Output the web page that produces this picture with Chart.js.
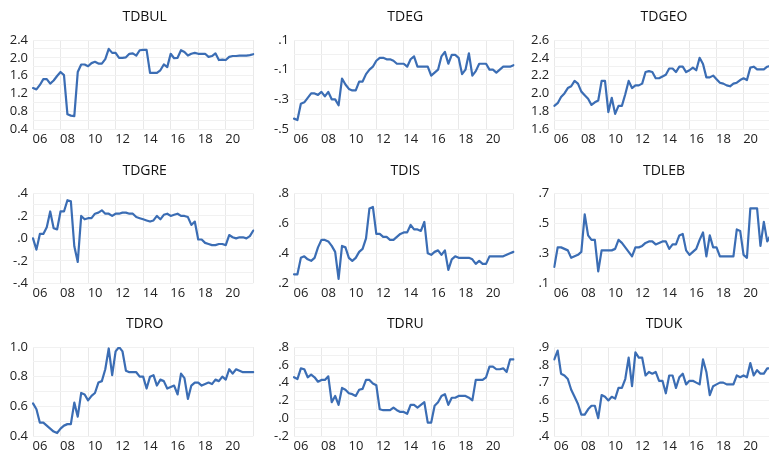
<!DOCTYPE html>
<html><head><meta charset="utf-8">
<script src="https://cdn.jsdelivr.net/npm/chart.js@4.4.1/dist/chart.umd.min.js"></script>
<style>
html,body{margin:0;padding:0;background:#fff;width:769px;height:451px;overflow:hidden;position:relative}
canvas{position:absolute}
</style></head><body>
<script>
const quarters = ["2006Q1","2006Q2","2006Q3","2006Q4","2007Q1","2007Q2","2007Q3","2007Q4",
"2008Q1","2008Q2","2008Q3","2008Q4","2009Q1","2009Q2","2009Q3","2009Q4",
"2010Q1","2010Q2","2010Q3","2010Q4","2011Q1","2011Q2","2011Q3","2011Q4",
"2012Q1","2012Q2","2012Q3","2012Q4","2013Q1","2013Q2","2013Q3","2013Q4",
"2014Q1","2014Q2","2014Q3","2014Q4","2015Q1","2015Q2","2015Q3","2015Q4",
"2016Q1","2016Q2","2016Q3","2016Q4","2017Q1","2017Q2","2017Q3","2017Q4",
"2018Q1","2018Q2","2018Q3","2018Q4","2019Q1","2019Q2","2019Q3","2019Q4",
"2020Q1","2020Q2","2020Q3","2020Q4","2021Q1","2021Q2","2021Q3","2021Q4","2022Q1"];
const yearTickLabels = ["06","08","10","12","14","16","18","20"];

const TDBUL = [1.32,1.29,1.39,1.52,1.52,1.42,1.49,1.59,1.68,1.61,0.73,0.70,0.69,1.68,1.85,1.85,1.81,1.88,1.91,1.87,1.87,1.97,2.20,2.11,2.11,2.00,2.00,2.01,2.09,2.10,2.05,2.17,2.18,2.18,1.66,1.66,1.66,1.72,1.85,1.79,2.09,1.99,2.00,2.17,2.13,2.05,2.09,2.11,2.09,2.09,2.09,2.02,2.04,2.10,1.95,1.96,1.95,2.02,2.04,2.04,2.05,2.05,2.05,2.06,2.08];
const TDEG = [-0.43,-0.44,-0.33,-0.32,-0.29,-0.26,-0.26,-0.27,-0.25,-0.28,-0.25,-0.30,-0.30,-0.34,-0.16,-0.20,-0.23,-0.24,-0.24,-0.18,-0.18,-0.13,-0.10,-0.08,-0.04,-0.02,-0.02,-0.03,-0.03,-0.04,-0.06,-0.06,-0.06,-0.08,-0.03,-0.01,-0.08,-0.08,-0.08,-0.08,-0.14,-0.12,-0.10,-0.01,0.02,-0.06,0.00,0.00,-0.02,-0.13,-0.10,0.01,-0.14,-0.11,-0.06,-0.06,-0.06,-0.10,-0.10,-0.12,-0.10,-0.08,-0.08,-0.08,-0.07];
const TDGEO = [1.86,1.89,1.96,2.00,2.06,2.08,2.14,2.11,2.02,1.98,1.94,1.87,1.90,1.92,2.14,2.14,1.79,1.95,1.77,1.86,1.86,1.99,2.14,2.06,2.09,2.09,2.11,2.24,2.25,2.24,2.17,2.17,2.19,2.21,2.28,2.28,2.24,2.30,2.30,2.24,2.26,2.29,2.26,2.40,2.33,2.18,2.18,2.20,2.16,2.12,2.11,2.09,2.08,2.11,2.12,2.15,2.17,2.15,2.29,2.30,2.27,2.27,2.27,2.30,2.31];
const TDGRE = [0.00,-0.10,0.04,0.04,0.10,0.24,0.09,0.08,0.24,0.24,0.34,0.33,-0.07,-0.21,0.20,0.17,0.18,0.18,0.22,0.23,0.25,0.22,0.22,0.20,0.22,0.22,0.23,0.23,0.22,0.22,0.19,0.18,0.17,0.16,0.15,0.16,0.20,0.17,0.21,0.22,0.20,0.21,0.22,0.20,0.20,0.19,0.12,0.15,-0.01,-0.01,-0.04,-0.05,-0.06,-0.06,-0.05,-0.05,-0.06,0.03,0.01,0.00,0.01,0.01,0.00,0.02,0.07];
const TDIS = [0.26,0.26,0.37,0.38,0.36,0.35,0.37,0.44,0.49,0.49,0.48,0.45,0.41,0.23,0.45,0.44,0.37,0.35,0.37,0.41,0.43,0.50,0.70,0.71,0.53,0.53,0.51,0.51,0.49,0.49,0.51,0.53,0.54,0.54,0.59,0.56,0.56,0.55,0.61,0.40,0.39,0.41,0.42,0.39,0.42,0.29,0.36,0.38,0.37,0.37,0.37,0.37,0.36,0.33,0.35,0.33,0.33,0.38,0.38,0.38,0.38,0.38,0.39,0.40,0.41];
const TDLEB = [0.21,0.34,0.34,0.33,0.32,0.27,0.28,0.29,0.31,0.56,0.42,0.39,0.39,0.18,0.32,0.32,0.32,0.32,0.33,0.39,0.37,0.34,0.31,0.28,0.34,0.34,0.35,0.37,0.38,0.38,0.36,0.37,0.38,0.38,0.33,0.36,0.36,0.42,0.43,0.32,0.29,0.31,0.33,0.39,0.44,0.28,0.42,0.34,0.34,0.28,0.28,0.28,0.28,0.28,0.46,0.45,0.29,0.27,0.60,0.60,0.60,0.35,0.51,0.38,0.42];
const TDRO = [0.62,0.58,0.49,0.49,0.47,0.45,0.43,0.42,0.45,0.47,0.48,0.48,0.625,0.53,0.69,0.68,0.64,0.67,0.69,0.76,0.77,0.85,0.99,0.81,0.97,1.00,0.97,0.84,0.83,0.83,0.83,0.80,0.80,0.72,0.80,0.81,0.74,0.78,0.77,0.72,0.73,0.74,0.68,0.82,0.79,0.65,0.74,0.76,0.76,0.74,0.75,0.76,0.75,0.78,0.77,0.80,0.78,0.85,0.82,0.85,0.84,0.83,0.83,0.83,0.83];
const TDRU = [0.46,0.44,0.56,0.55,0.46,0.49,0.46,0.41,0.43,0.43,0.47,0.18,0.25,0.15,0.34,0.32,0.28,0.27,0.25,0.32,0.33,0.43,0.43,0.39,0.37,0.10,0.09,0.09,0.09,0.12,0.09,0.07,0.07,0.05,0.15,0.15,0.12,0.15,0.18,-0.05,-0.05,0.14,0.18,0.25,0.27,0.15,0.23,0.23,0.25,0.25,0.25,0.23,0.20,0.43,0.43,0.43,0.46,0.58,0.58,0.55,0.55,0.56,0.52,0.66,0.66];
const TDUK = [0.83,0.88,0.75,0.74,0.72,0.66,0.62,0.58,0.52,0.52,0.55,0.57,0.57,0.50,0.63,0.62,0.60,0.62,0.61,0.67,0.67,0.72,0.84,0.68,0.87,0.84,0.84,0.74,0.76,0.75,0.76,0.71,0.71,0.64,0.74,0.74,0.67,0.73,0.75,0.69,0.71,0.71,0.70,0.69,0.83,0.76,0.63,0.68,0.69,0.70,0.70,0.69,0.69,0.69,0.74,0.73,0.74,0.73,0.81,0.74,0.77,0.75,0.75,0.78,0.78];

const yTicksTDBUL = [2.4,2.0,1.6,1.2,0.8,0.4];   const yLabelsTDBUL = ["2.4","2.0","1.6","1.2","0.8","0.4"];
const yTicksTDEG  = [0.1,-0.1,-0.3,-0.5];        const yLabelsTDEG  = [".1","-.1","-.3","-.5"];
const yTicksTDGEO = [2.6,2.4,2.2,2.0,1.8,1.6];   const yLabelsTDGEO = ["2.6","2.4","2.2","2.0","1.8","1.6"];
const yTicksTDGRE = [0.4,0.2,0.0,-0.2,-0.4];     const yLabelsTDGRE = [".4",".2",".0","-.2","-.4"];
const yTicksTDIS  = [0.8,0.6,0.4,0.2];           const yLabelsTDIS  = [".8",".6",".4",".2"];
const yTicksTDLEB = [0.7,0.5,0.3,0.1];           const yLabelsTDLEB = [".7",".5",".3",".1"];
const yTicksTDRO  = [1.0,0.8,0.6,0.4];           const yLabelsTDRO  = ["1.0","0.8","0.6","0.4"];
const yTicksTDRU  = [0.8,0.6,0.4,0.2,0.0,-0.2];  const yLabelsTDRU  = [".8",".6",".4",".2",".0","-.2"];
const yTicksTDUK  = [0.9,0.8,0.7,0.6,0.5,0.4];   const yLabelsTDUK  = [".9",".8",".7",".6",".5",".4"];

const panels = [
  {name:"TDBUL", data:TDBUL, ticks:yTicksTDBUL, labels:yLabelsTDBUL, step:0.2, col:0, row:0},
  {name:"TDEG",  data:TDEG,  ticks:yTicksTDEG,  labels:yLabelsTDEG,  step:0.1, col:1, row:0},
  {name:"TDGEO", data:TDGEO, ticks:yTicksTDGEO, labels:yLabelsTDGEO, step:0.1, col:2, row:0},
  {name:"TDGRE", data:TDGRE, ticks:yTicksTDGRE, labels:yLabelsTDGRE, step:0.1, col:0, row:1},
  {name:"TDIS",  data:TDIS,  ticks:yTicksTDIS,  labels:yLabelsTDIS,  step:0.1, col:1, row:1},
  {name:"TDLEB", data:TDLEB, ticks:yTicksTDLEB, labels:yLabelsTDLEB, step:0.1, col:2, row:1},
  {name:"TDRO",  data:TDRO,  ticks:yTicksTDRO,  labels:yLabelsTDRO,  step:0.1, col:0, row:2},
  {name:"TDRU",  data:TDRU,  ticks:yTicksTDRU,  labels:yLabelsTDRU,  step:0.1, col:1, row:2},
  {name:"TDUK",  data:TDUK,  ticks:yTicksTDUK,  labels:yLabelsTDUK,  step:0.1, col:2, row:2}
];

// layout geometry (pixels)
const cols = [{x0:0, L:33, R:253.3}, {x0:254, L:294, R:513.5}, {x0:514, L:554.3, R:770.6}];
const rows = [{y0:0, T:40, B:129, ty:17}, {y0:150, T:193.5, B:283.3, ty:170.7}, {y0:300, T:347, B:436, ty:324}];
const HX = 20;
const FONT = "'Open Sans', 'DejaVu Sans', sans-serif";

const titlePlugin = {
  id: 'ptitle',
  afterDraw(chart, args, opts) {
    const ctx = chart.ctx, a = chart.chartArea;
    ctx.save();
    ctx.font = '14px ' + FONT;
    ctx.fillStyle = '#111';
    ctx.textAlign = 'center';
    ctx.textBaseline = 'middle';
    ctx.fillText(opts.text, (a.left + a.right) / 2 + 1.5, opts.y);
    ctx.restore();
  }
};

panels.forEach(p => {
  const c = cols[p.col], r = rows[p.row];
  const W = Math.ceil(c.R - c.x0 + 4);
  const H = Math.ceil(r.B + HX - r.y0);
  const cv = document.createElement('canvas');
  cv.width = W; cv.height = H;
  cv.style.left = c.x0 + 'px'; cv.style.top = r.y0 + 'px';
  cv.style.width = W + 'px'; cv.style.height = H + 'px';
  document.body.appendChild(cv);
  const ymin = Math.min(...p.ticks), ymax = Math.max(...p.ticks);
  new Chart(cv, {
    type: 'line',
    data: {labels: quarters, datasets: [{data: p.data, borderColor: '#3b6db4', borderWidth: 2.2,
      pointRadius: 0, pointHoverRadius: 0, tension: 0, fill: false, borderJoinStyle: 'round', borderCapStyle: 'round'}]},
    options: {
      responsive: false, animation: false, devicePixelRatio: 1, events: [],
      layout: {padding: {left: 0, top: r.T - r.y0, right: c.x0 + W - c.R, bottom: r.y0 + H - r.B - HX}},
      plugins: {legend: {display: false}, tooltip: {enabled: false}, title: {display: false},
        ptitle: {text: p.name, y: r.ty - r.y0}},
      scales: {
        x: {
          type: 'category', offset: false,
          grid: {drawTicks: false, lineWidth: 1,
            color: ctx => (ctx.index % 8 === 0 ? '#e9e9e9' : 'rgba(0,0,0,0)')},
          border: {display: false},
          ticks: {autoSkip: false, maxRotation: 0, minRotation: 0, padding: 2, labelOffset: 7,
            color: '#222', font: {family: FONT, size: 13},
            callback: (v, i) => (i % 8 === 0 && i / 8 < yearTickLabels.length) ? yearTickLabels[i / 8] : ''},
          afterFit: s => { s.height = HX; }
        },
        y: {
          min: ymin, max: ymax,
          grid: {drawTicks: false, color: '#f1f1f1', lineWidth: 1},
          border: {display: false},
          ticks: {stepSize: p.step, autoSkip: false, maxTicksLimit: 30, padding: 5,
            color: '#222', font: {family: FONT, size: 13},
            callback: v => {
              const k = p.ticks.findIndex(t => Math.abs(t - v) < 1e-6);
              return k >= 0 ? p.labels[k] : '';
            }},
          afterFit: s => { s.width = c.L - c.x0; }
        }
      }
    },
    plugins: [titlePlugin]
  });
});
</script>
</body></html>
